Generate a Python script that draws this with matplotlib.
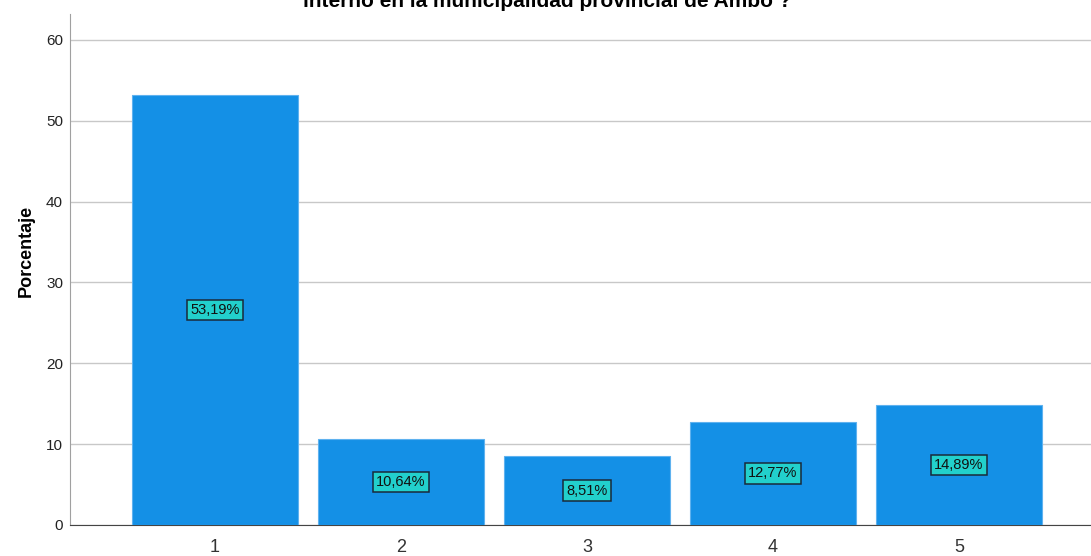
import matplotlib
matplotlib.use('Agg')
import matplotlib.pyplot as plt

categorias = ['1', '2', '3', '4', '5']
porcentajes = [53.19, 10.64, 8.51, 12.77, 14.89]
etiquetas = ['53,19%', '10,64%', '8,51%', '12,77%', '14,89%']

plt.rcParams['font.family'] = ['Liberation Sans', 'DejaVu Sans']

fig = plt.figure(figsize=(10.91, 5.56), dpi=100)
ax = fig.add_axes([0.0642, 0.0558, 0.9358, 0.919])

x = range(1, len(categorias) + 1)
ax.bar(x, porcentajes, width=0.895, color='#1490e6',
       edgecolor='#5fb2ef', linewidth=0.8, zorder=3)

# etiquetas de valor en el centro de cada barra
for xi, val, txt in zip(x, porcentajes, etiquetas):
    ax.text(xi, val / 2, txt, ha='center', va='center', fontsize=10.5,
            color='#111111', zorder=4,
            bbox=dict(boxstyle='square,pad=0.22', facecolor='#22d0cc',
                      edgecolor='#1a2a3a', linewidth=1.1))

ax.set_xlim(0.22, 5.71)
ax.set_ylim(0, 63.2)
ax.set_yticks([0, 10, 20, 30, 40, 50, 60])
ax.set_xticks(list(x))
ax.set_xticklabels(categorias, fontsize=13, color='#333333')
ax.tick_params(axis='y', labelsize=11, length=0, pad=5, colors='#222222')
ax.tick_params(axis='x', length=0, pad=10)
ax.yaxis.grid(True, color='#c8c8c8', linewidth=1.0, zorder=0)

for s in ['top', 'right']:
    ax.spines[s].set_visible(False)
ax.spines['left'].set_color('#a0a0a0')
ax.spines['bottom'].set_color('#444444')

fig.text(26 / 1091, 1 - 251 / 556, 'Porcentaje', rotation=90,
         ha='center', va='center', fontsize=13, fontweight='bold')

fig.text(0.502, 1 - 7 / 556, 'interno en la municipalidad provincial de Ambo ?',
         ha='center', va='baseline', fontsize=15, fontweight='bold')

fig.savefig('out.png', dpi=100)
